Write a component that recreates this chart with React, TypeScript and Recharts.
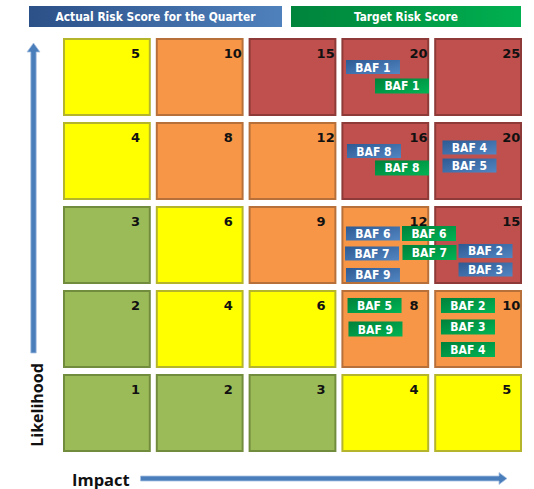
import React from "react";
import { ScatterChart, Scatter, XAxis, YAxis, ReferenceArea } from "recharts";

// grid axes
const impactLevels = [1, 2, 3, 4, 5];
const likelihoodLevels = [1, 2, 3, 4, 5];

// actual risk score per BAF for the quarter
const actualCodes = ["BAF 1", "BAF 8", "BAF 4", "BAF 5", "BAF 6", "BAF 7", "BAF 9", "BAF 2", "BAF 3"];
const actualImpact = [4, 4, 5, 5, 4, 4, 4, 5, 5];
const actualLikelihood = [5, 4, 4, 4, 3, 3, 3, 3, 3];

// target risk score per BAF
const targetCodes = ["BAF 1", "BAF 8", "BAF 6", "BAF 7", "BAF 5", "BAF 9", "BAF 2", "BAF 3", "BAF 4"];
const targetImpact = [4, 4, 4, 4, 4, 4, 5, 5, 5];
const targetLikelihood = [5, 4, 3, 3, 2, 2, 2, 2, 2];

// where each tag sits inside its cell (fraction of a cell, from bottom-left)
const actualSlots: [number, number][] = [
  [0.367, 0.619], [0.378, 0.619], [0.407, 0.661], [0.407, 0.446],
  [0.367, 0.637], [0.357, 0.399], [0.367, 0.143], [0.58, 0.429], [0.58, 0.208],
];
const targetSlots: [number, number][] = [
  [0.68, 0.393], [0.68, 0.417], [0.971, 0.637], [0.976, 0.411],
  [0.384, 0.78], [0.394, 0.5], [0.391, 0.78], [0.391, 0.524], [0.391, 0.256],
];

const bandColors: Record<string, { fill: string; stroke: string }> = {
  minimal: { fill: "#9BBB59", stroke: "#728C3E" },
  low: { fill: "#FFFF00", stroke: "#B5B52C" },
  medium: { fill: "#F79646", stroke: "#B8703A" },
  high: { fill: "#C0504D", stroke: "#8E3A38" },
};

const bandOf = (score: number) =>
  score >= 15 ? "high" : score >= 8 ? "medium" : score >= 4 ? "low" : "minimal";

const actualData = actualCodes.map((code, i) => ({
  code,
  x: actualImpact[i] - 1 + actualSlots[i][0],
  y: actualLikelihood[i] - 1 + actualSlots[i][1],
}));
const targetData = targetCodes.map((code, i) => ({
  code,
  x: targetImpact[i] - 1 + targetSlots[i][0],
  y: targetLikelihood[i] - 1 + targetSlots[i][1],
}));

const tagFont = "'DejaVu Sans Condensed', 'DejaVu Sans', sans-serif";

const RiskCell = (props: any) => {
  const { x, y, width, height, score } = props;
  const c = bandColors[bandOf(score)];
  return (
    <g>
      <rect x={x + 3.5} y={y + 4} width={width - 7} height={height - 8} fill={c.fill} stroke={c.stroke} strokeWidth={2} />
      <text x={x + 70.5} y={y + 23} fontFamily="'DejaVu Sans', sans-serif" fontWeight="bold" fontSize={13} fill="#111">
        {score}
      </text>
    </g>
  );
};

const makeTag = (gradient: string, h: number) => (props: any) => {
  const { cx, cy, payload } = props;
  return (
    <g>
      <rect x={cx - 27} y={cy - h / 2} width={54} height={h} fill={`url(#${gradient})`} />
      <text x={cx} y={cy + 4.5} textAnchor="middle" fontFamily={tagFont} fontWeight="bold" fontSize={12} fill="#fff">
        {payload.code}
      </text>
    </g>
  );
};

const LikelihoodTitle = (props: any) => {
  const vb = props.viewBox;
  const cx = vb.x + 33.5;
  const top = vb.y + 8;
  const bottom = vb.y + 318;
  return (
    <g>
      <path
        d={`M ${cx - 2.7} ${bottom} L ${cx - 2.7} ${top + 9} L ${cx - 6.5} ${top + 9} L ${cx} ${top} L ${cx + 6.5} ${top + 9} L ${cx + 2.7} ${top + 9} L ${cx + 2.7} ${bottom} Z`}
        fill="#4A7EBB"
        stroke="#A9C1E2"
        strokeWidth={0.8}
      />
      <text
        transform={`translate(${vb.x + 42.5}, ${vb.y + 370}) rotate(-90)`}
        textAnchor="middle"
        fontFamily="'Open Sans', sans-serif"
        fontWeight="bold"
        fontSize={16}
        fill="#111"
      >
        Likelihood
      </text>
    </g>
  );
};

const ImpactTitle = (props: any) => {
  const vb = props.viewBox;
  const cy = vb.y + 23.5;
  const left = vb.x + 80;
  const tip = vb.x + vb.width - 17.5;
  return (
    <g>
      <path
        d={`M ${left} ${cy - 2.5} L ${tip - 8} ${cy - 2.5} L ${tip - 8} ${cy - 6} L ${tip} ${cy} L ${tip - 8} ${cy + 6} L ${tip - 8} ${cy + 2.5} L ${left} ${cy + 2.5} Z`}
        fill="#4A7EBB"
        stroke="#A9C1E2"
        strokeWidth={0.8}
      />
      <text x={vb.x + 11.5} y={vb.y + 30.5} fontFamily="'Open Sans', sans-serif" fontWeight="bold" fontSize={16.5} fill="#111">
        Impact
      </text>
    </g>
  );
};

const Headers = () => (
  <svg width={534} height={32} style={{ position: "absolute", left: 0, top: 0 }}>
    <defs>
      <linearGradient id="hdrBlue" x1="0" y1="0" x2="1" y2="0">
        <stop offset="0%" stopColor="#2C5088" />
        <stop offset="100%" stopColor="#4F81BD" />
      </linearGradient>
      <linearGradient id="hdrGreen" x1="0" y1="0" x2="1" y2="0">
        <stop offset="0%" stopColor="#00843C" />
        <stop offset="100%" stopColor="#00B050" />
      </linearGradient>
    </defs>
    <rect x={29} y={6} width={253} height={21} fill="url(#hdrBlue)" />
    <text x={155.5} y={21} textAnchor="middle" fontFamily={tagFont} fontWeight="bold" fontSize={12} fill="#fff" textLength={200} lengthAdjust="spacingAndGlyphs">
      Actual Risk Score for the Quarter
    </text>
    <rect x={291} y={6} width={230} height={21} fill="url(#hdrGreen)" />
    <text x={406} y={21} textAnchor="middle" fontFamily={tagFont} fontWeight="bold" fontSize={12} fill="#fff" textLength={104} lengthAdjust="spacingAndGlyphs">
      Target Risk Score
    </text>
  </svg>
);

export default function App() {
  return (
    <div style={{ position: "absolute", left: 0, top: 0, width: 534, height: 489, background: "#fff" }}>
      <ScatterChart width={534} height={489} margin={{ top: 35, right: 9.5, left: 0, bottom: 0 }}>
        <defs>
          <linearGradient id="tagBlue" x1="0" y1="0" x2="1" y2="1">
            <stop offset="0%" stopColor="#2E5A93" />
            <stop offset="100%" stopColor="#5286C2" />
          </linearGradient>
          <linearGradient id="tagGreen" x1="0" y1="0" x2="1" y2="1">
            <stop offset="0%" stopColor="#00813B" />
            <stop offset="100%" stopColor="#00B454" />
          </linearGradient>
        </defs>
        <XAxis
          type="number"
          dataKey="x"
          domain={[0, 5]}
          height={34}
          tick={false}
          tickLine={false}
          axisLine={false}
          label={(p: any) => <ImpactTitle {...p} />}
        />
        <YAxis
          type="number"
          dataKey="y"
          domain={[0, 5]}
          width={60.5}
          tick={false}
          tickLine={false}
          axisLine={false}
          label={(p: any) => <LikelihoodTitle {...p} />}
        />
        {impactLevels.map((imp) =>
          likelihoodLevels.map((lik) => (
            <ReferenceArea
              key={`${imp}-${lik}`}
              x1={imp - 1}
              x2={imp}
              y1={lik - 1}
              y2={lik}
              shape={(p: any) => <RiskCell {...p} score={imp * lik} />}
            />
          ))
        )}
        <Scatter data={actualData} shape={makeTag("tagBlue", 14)} isAnimationActive={false} />
        <Scatter data={targetData} shape={makeTag("tagGreen", 15)} isAnimationActive={false} />
      </ScatterChart>
      <Headers />
    </div>
  );
}
